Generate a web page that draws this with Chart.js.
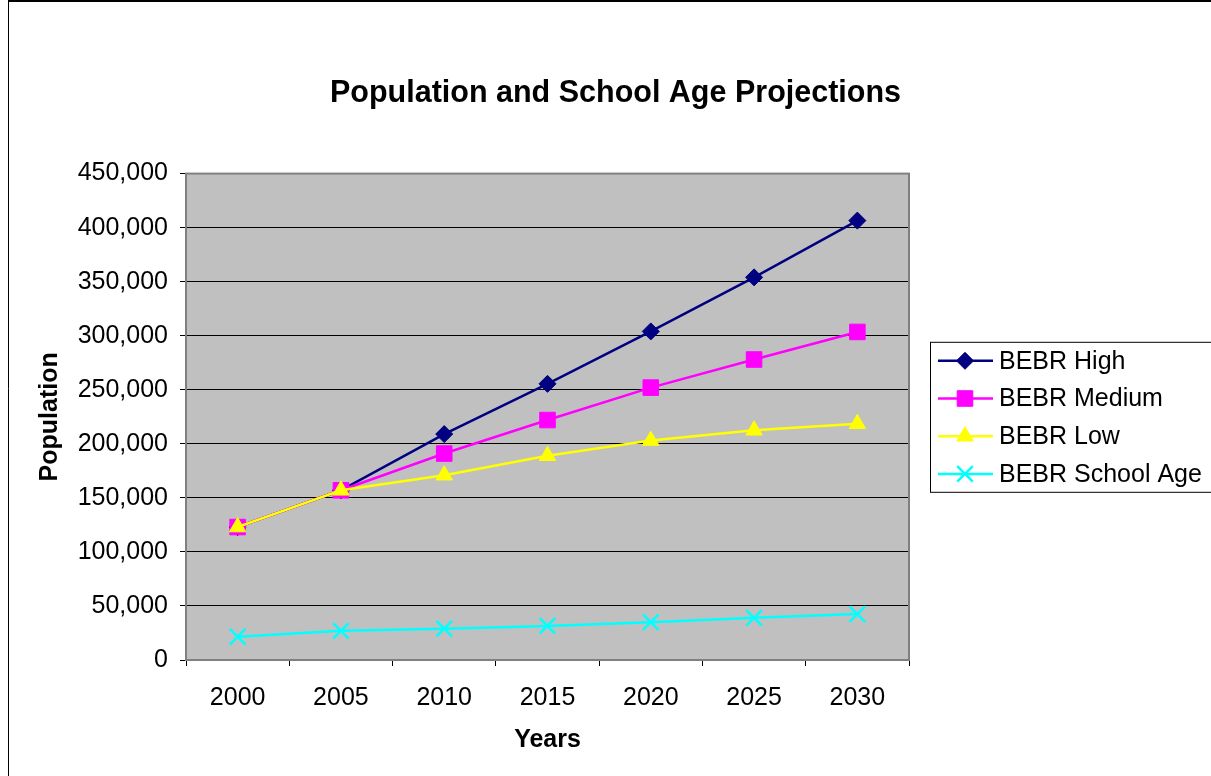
<!DOCTYPE html>
<html>
<head>
<meta charset="utf-8">
<script src="https://cdn.jsdelivr.net/npm/chart.js@4"></script>
<style>
  html, body { margin: 0; padding: 0; background: #fff; overflow: hidden; }
  #chart { display: block; }
</style>
</head>
<body>
<canvas id="chart" width="1211" height="776"></canvas>
<script>
// ========== Data ==========
const years = ['2000', '2005', '2010', '2015', '2020', '2025', '2030'];
const bebrHigh = [123000, 157000, 209000, 255500, 304000, 354000, 406500];
const bebrMedium = [123000, 157000, 191000, 222000, 252000, 278000, 303500];
const bebrLow = [123000, 157000, 171000, 189000, 203000, 212500, 218500];
const bebrSchool = [21500, 27000, 29000, 31500, 35000, 39000, 42500];
const yTicks = [0, 50000, 100000, 150000, 200000, 250000, 300000, 350000, 400000, 450000];

const FONT = "'Liberation Sans', Arial, sans-serif";

function series(label, data, color, style, radius, order) {
  return {
    label, data, order,
    borderColor: color,
    backgroundColor: color,
    pointBackgroundColor: color,
    pointBorderColor: color,
    pointStyle: style,
    pointRadius: radius,
    pointBorderWidth: style === 'crossRot' ? 2.5 : 1,
    borderWidth: 2.5,
    tension: 0
  };
}

// ========== Plugins ==========
const frame = {
  id: 'frame',
  beforeDraw(chart) {
    const { ctx, chartArea: a } = chart;
    ctx.save();
    ctx.fillStyle = '#fff';
    ctx.fillRect(0, 0, chart.width, chart.height);
    ctx.strokeStyle = '#000';
    ctx.lineWidth = 2;
    ctx.beginPath();
    ctx.moveTo(8, 1); ctx.lineTo(chart.width, 1);
    ctx.stroke();
    ctx.lineWidth = 1;
    ctx.beginPath();
    ctx.moveTo(8.5, 1); ctx.lineTo(8.5, chart.height);
    ctx.stroke();
    ctx.fillStyle = '#c0c0c0';
    ctx.fillRect(a.left, a.top, a.right - a.left, a.bottom - a.top);
    ctx.restore();
  },
  beforeDatasetsDraw(chart) {
    const { ctx, chartArea: a } = chart;
    ctx.save();
    ctx.strokeStyle = '#808080';
    ctx.lineWidth = 2;
    ctx.strokeRect(a.left, a.top, a.right - a.left, a.bottom - a.top);
    ctx.restore();
  }
};

const boxLegend = {
  id: 'boxLegend',
  afterDraw(chart) {
    const { ctx, chartArea: a } = chart;
    const x0 = a.right + 21;
    const cy = (a.top + a.bottom) / 2;
    const top = cy - 75, h = 150;
    ctx.save();
    ctx.strokeStyle = '#000';
    ctx.lineWidth = 1;
    ctx.strokeRect(x0 + 0.5, top + 0.5, chart.width - x0 + 5, h);
    const rowH = 37.7;
    chart.data.datasets.forEach((ds, i) => {
      const y = top + 19 + i * rowH;
      ctx.strokeStyle = ds.borderColor;
      ctx.lineWidth = 2.5;
      ctx.beginPath();
      ctx.moveTo(x0 + 8, y); ctx.lineTo(x0 + 63, y);
      ctx.stroke();
      ctx.fillStyle = ds.pointBackgroundColor;
      ctx.strokeStyle = ds.pointBorderColor;
      ctx.lineWidth = ds.pointBorderWidth;
      Chart.helpers.drawPoint(ctx, { pointStyle: ds.pointStyle, radius: ds.pointRadius, rotation: 0, borderWidth: ds.pointBorderWidth }, x0 + 35, y);
      ctx.fillStyle = '#000';
      ctx.font = '25px ' + FONT;
      ctx.textBaseline = 'middle';
      ctx.textAlign = 'left';
      ctx.fillText(ds.label, x0 + 69, y + 1);
    });
    ctx.restore();
  }
};

// ========== Chart ==========
new Chart(document.getElementById('chart'), {
  type: 'line',
  data: {
    labels: years,
    datasets: [
      series('BEBR High', bebrHigh, '#000080', 'rectRot', 8.5, 4),
      series('BEBR Medium', bebrMedium, '#ff00ff', 'rect', 11, 3),
      series('BEBR Low', bebrLow, '#ffff00', 'triangle', 9.5, 2),
      series('BEBR School Age', bebrSchool, '#00ffff', 'crossRot', 11, 1)
    ]
  },
  options: {
    responsive: false,
    animation: false,
    layout: { padding: { left: 20, top: 0, right: 0, bottom: 0 } },
    plugins: {
      legend: { display: false },
      tooltip: { enabled: false },
      title: {
        display: true,
        text: 'Population and School Age Projections',
        color: '#000',
        font: { family: FONT, size: 30.5, weight: 'bold', lineHeight: 1.2 },
        padding: { top: 75, bottom: 62 }
      }
    },
    scales: {
      x: {
        offset: true,
        grid: { offset: true, drawOnChartArea: false, drawTicks: true, tickLength: 6, color: '#000' },
        border: { display: true, color: '#808080', width: 2 },
        ticks: { color: '#000', font: { family: FONT, size: 25 }, padding: 17, maxRotation: 0 },
        title: { display: true, text: 'Years', color: '#000', font: { family: FONT, size: 25, weight: 'bold', lineHeight: 1.2 }, padding: { top: 0, bottom: 21 } },
        afterFit: s => { s.height = 116; }
      },
      y: {
        min: 0,
        max: 450000,
        afterBuildTicks: s => { s.ticks = yTicks.map(v => ({ value: v })); },
        grid: { color: '#000', lineWidth: 1, tickLength: 6, drawTicks: true },
        border: { display: true, color: '#808080', width: 2 },
        ticks: { color: '#000', font: { family: FONT, size: 25 }, padding: 12, callback: v => v.toLocaleString('en-US') },
        title: { display: true, text: 'Population', color: '#000', font: { family: FONT, size: 25, weight: 'bold', lineHeight: 1.2 }, padding: { top: 15, bottom: 0 } },
        afterFit: s => { s.width = 166; }
      },
      yR: {
        position: 'right',
        display: true,
        grid: { display: false },
        border: { display: false },
        ticks: { display: false },
        afterFit: s => { s.width = 302; }
      }
    }
  },
  plugins: [frame, boxLegend]
});
</script>
</body>
</html>
